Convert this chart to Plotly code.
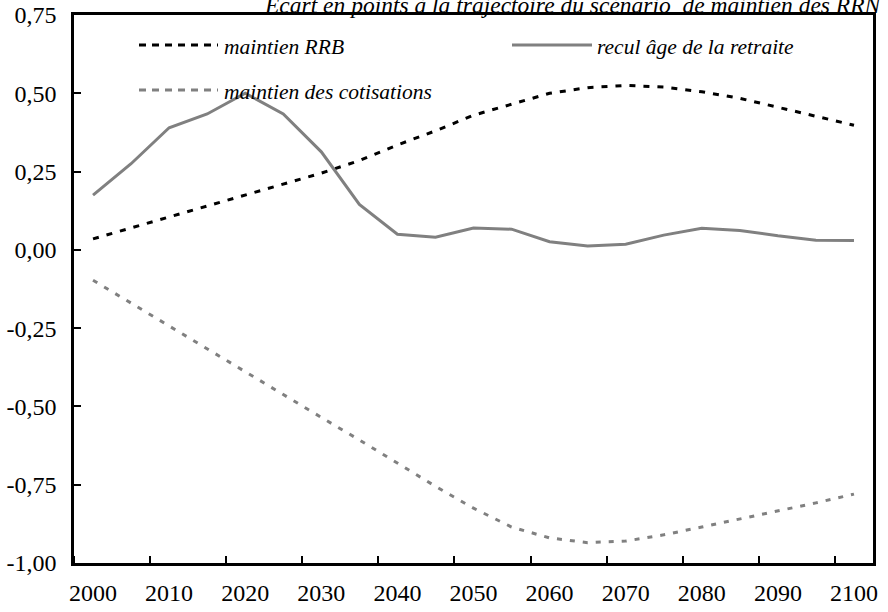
import plotly.graph_objects as go

# Five-year steps, 2000-2100
years = list(range(2000, 2101, 5))

# Gap (points) to the reference trajectory
maintien_rrb = [0.035, 0.07, 0.105, 0.14, 0.175, 0.21, 0.245, 0.285, 0.335, 0.38,
                0.43, 0.465, 0.50, 0.518, 0.525, 0.52, 0.505, 0.484, 0.455, 0.427, 0.398]
recul_age = [0.175, 0.275, 0.39, 0.434, 0.50, 0.434, 0.313, 0.145, 0.05, 0.04,
             0.07, 0.066, 0.026, 0.012, 0.018, 0.047, 0.069, 0.062, 0.045, 0.031, 0.03]
maintien_cotisations = [-0.097, -0.17, -0.245, -0.318, -0.39, -0.462, -0.535, -0.607,
                        -0.68, -0.755, -0.825, -0.885, -0.92, -0.935, -0.93, -0.91,
                        -0.885, -0.86, -0.835, -0.808, -0.78]

y_ticks = [-1.0, -0.75, -0.5, -0.25, 0.0, 0.25, 0.5, 0.75]
y_tick_labels = ["-1,00", "-0,75", "-0,50", "-0,25", "0,00", "0,25", "0,50", "0,75"]
x_tick_years = list(range(2000, 2101, 10))

title_text = "Ecart en points à la trajectoire du scénario  de maintien des RRN"
legend_labels = ["maintien RRB", "recul âge de la retraite", "maintien des cotisations"]

BLACK = "#000000"
GREY = "#808080"
SERIF = "Liberation Serif"

W, H = 888, 612
ML, MR, MT, MB = 74, 15, 15, 49
PW, PH = W - ML - MR, H - MT - MB


def px(x):
    return (x - ML) / PW


def py(y):
    return (H - MB - y) / PH


fig = go.Figure()
fig.add_trace(go.Scatter(x=years, y=maintien_rrb, mode="lines", name=legend_labels[0],
                         line=dict(color=BLACK, width=3, dash="6px,8px")))
fig.add_trace(go.Scatter(x=years, y=recul_age, mode="lines", name=legend_labels[1],
                         line=dict(color=GREY, width=3)))
fig.add_trace(go.Scatter(x=years, y=maintien_cotisations, mode="lines", name=legend_labels[2],
                         line=dict(color=GREY, width=3, dash="5px,8px")))

# Hand-placed legend: sample segment + italic label
legend_items = [
    (139, 218, 45, BLACK, "7px,6px", 222, 47, legend_labels[0]),
    (512, 592, 45, GREY, "solid", 595, 47, legend_labels[1]),
    (139, 218, 90, GREY, "7px,6px", 222, 92, legend_labels[2]),
]
shapes = []
annotations = []
for x0, x1, ly, col, dash, tx, ty, lab in legend_items:
    shapes.append(dict(type="line", xref="paper", yref="paper",
                       x0=px(x0), x1=px(x1), y0=py(ly), y1=py(ly),
                       line=dict(color=col, width=3, dash=dash)))
    annotations.append(dict(text="<i>" + lab + "</i>", xref="paper", yref="paper",
                            x=px(tx), y=py(ty), xanchor="left", yanchor="middle",
                            showarrow=False, font=dict(family=SERIF, size=21.5, color=BLACK)))

# Chart heading, running off the top-right corner of the page
annotations.append(dict(text="<i>" + title_text + "</i>", xref="paper", yref="paper",
                        x=px(262), y=py(5), xanchor="left", yanchor="middle",
                        showarrow=False, font=dict(family=SERIF, size=23.5, color=BLACK)))

fig.update_layout(
    width=W, height=H,
    margin=dict(l=ML, r=MR, t=MT, b=MB),
    paper_bgcolor="white", plot_bgcolor="white",
    showlegend=False,
    shapes=shapes,
    annotations=annotations,
    font=dict(family=SERIF, color=BLACK),
)
fig.update_xaxes(
    range=[1997.5, 2102.5], automargin=False,
    tickvals=x_tick_years, ticktext=[str(y) for y in x_tick_years],
    ticks="", showgrid=False, zeroline=False,
    showline=True, linecolor=BLACK, linewidth=2.5, mirror=True,
    tickfont=dict(family=SERIF, size=24, color=BLACK),
    ticklabelstandoff=6,
    minor=dict(tick0=1997.5, dtick=10, ticks="inside", ticklen=7,
               tickwidth=2, tickcolor=BLACK, showgrid=False),
)
fig.update_yaxes(
    range=[-1.0, 0.75], automargin=False,
    tickvals=y_ticks, ticktext=y_tick_labels,
    ticks="inside", ticklen=7, tickwidth=2, tickcolor=BLACK,
    showgrid=False, zeroline=False,
    showline=True, linecolor=BLACK, linewidth=2.5, mirror=True,
    tickfont=dict(family=SERIF, size=24, color=BLACK),
    ticklabelstandoff=10,
)

fig.write_html("out.html")
